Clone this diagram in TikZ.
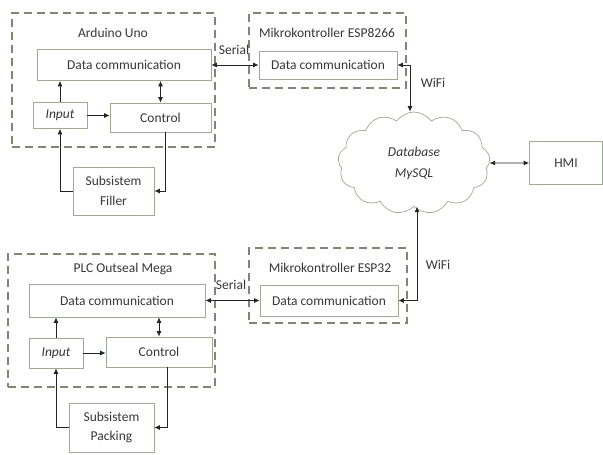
\documentclass[tikz,border=0pt]{standalone}
\usepackage{fontspec}
\setmainfont{Carlito}
\usepackage{tikz}
\usetikzlibrary{arrows.meta,shapes.symbols}
\definecolor{dashgreen}{RGB}{125,136,112}
\definecolor{boxgray}{RGB}{160,168,150}
\definecolor{linegray}{RGB}{35,35,35}
\definecolor{textgray}{RGB}{55,55,55}

\begin{document}
\begin{tikzpicture}[x=1pt,y=-1pt,
	font=\fontsize{13.5}{19.5}\selectfont, text=textgray,
	group/.style={draw=dashgreen, line width=1.1pt, dash pattern=on 8pt off 5pt, anchor=center},
	box/.style={draw=boxgray, line width=0.7pt, align=center, anchor=center},
	arr/.style={draw=linegray, line width=0.8pt, -{Latex[length=5.5pt,width=5pt]}},
	darr/.style={draw=linegray, line width=0.8pt, {Latex[length=5.5pt,width=5pt]}-{Latex[length=5.5pt,width=5pt]}}]
	\useasboundingbox (0,0) rectangle (603,455);

	% Arduino Uno
	\node [group, minimum width=203, minimum height=134] (ardbox) at (113.5,80) {};
	\node (ardlabel) at (113,33) {Arduino Uno};
	\node [box, minimum width=174, minimum height=31] (ardcom) at (124,65) {Data communication};
	\node [box, minimum width=54, minimum height=26] (ardin) at (60,115.5) {\itshape Input};
	\node [box, minimum width=101, minimum height=29] (ardctl) at (160.5,117.5) {Control};
	\node [box, minimum width=81, minimum height=48] (filler) at (113.5,191) {Subsistem\\Filler};

	% PLC Outseal Mega
	\node [group, minimum width=207, minimum height=133] (plcbox) at (111.5,320.5) {};
	\node (plclabel) at (123,269) {PLC Outseal Mega};
	\node [box, minimum width=176, minimum height=33] (plccom) at (117,300.5) {Data communication};
	\node [box, minimum width=54, minimum height=30] (plcin) at (56,353) {\itshape Input};
	\node [box, minimum width=106, minimum height=30] (plcctl) at (159,352) {Control};
	\node [box, minimum width=85, minimum height=49] (packing) at (111.5,427.5) {Subsistem\\Packing};

	% ESP8266 and ESP32
	\node [group, minimum width=157, minimum height=75] (espabox) at (327.5,50.5) {};
	\node (espalabel) at (327,33) {Mikrokontroller ESP8266};
	\node [box, minimum width=138, minimum height=28] (espacom) at (328,65) {Data communication};
	\node [group, minimum width=158, minimum height=75] (espbbox) at (328,285.5) {};
	\node (espblabel) at (330,268) {Mikrokontroller ESP32};
	\node [box, minimum width=138, minimum height=31] (espbcom) at (329,300.5) {Data communication};

	% database and HMI
	\node [cloud, cloud puffs=13, cloud puff arc=110, aspect=1.5, draw=boxgray, line width=0.7pt,
		minimum width=152, minimum height=102, align=center, font=\fontsize{13.5}{21}\selectfont\itshape] (db) at (414,163) {Database\\MySQL};
	\node [box, minimum width=73, minimum height=43] (hmi) at (566,163) {HMI};

	\node (sera) at (234,50) {Serial};
	\node (serb) at (231,285) {Serial};
	\node (wifia) at (433,83) {WiFi};
	\node (wifib) at (438,265) {WiFi};

	\draw[arr] (ardin.north) -- (ardin.north |- ardcom.south);
	\draw[arr] (ardin.east) -- (ardin.east -| ardctl.west);
	\draw[darr] (ardctl.north) -- (ardctl.north |- ardcom.south);
	\draw[arr] (filler.west) -| (ardin.south);
	\draw[arr] ([xshift=5pt]ardctl.south) |- (filler.east);

	\draw[arr] (plcin.north) -- (plcin.north |- plccom.south);
	\draw[arr] (plcin.east) -- (plcin.east -| plcctl.west);
	\draw[darr] (plcctl.north) -- (plcctl.north |- plccom.south);
	\draw[arr] (packing.west) -| (plcin.south);
	\draw[arr] ([xshift=8pt]plcctl.south) |- (packing.east);

	\draw[darr] (ardcom.east) -- (espacom.west);
	\draw[darr] (plccom.east) -- (espbcom.west);
	\draw[darr] ([xshift=-4pt]db.north) |- (espacom.east);
	\draw[darr] ([xshift=3pt]db.south) |- (espbcom.east);
	\draw[darr] (db.east) -- (hmi.west);
\end{tikzpicture}
\end{document}
